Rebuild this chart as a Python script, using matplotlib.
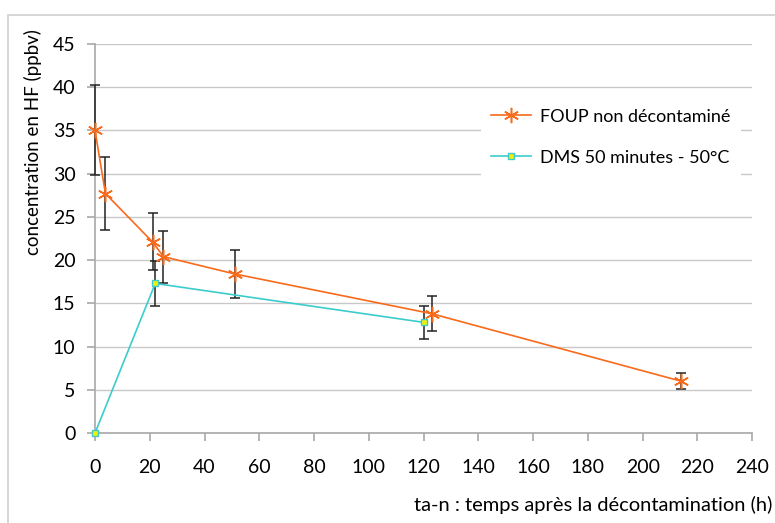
import matplotlib
matplotlib.use('Agg')
import matplotlib.pyplot as plt
from matplotlib.patches import Rectangle

plt.rcParams['font.family'] = ['Lato', 'DejaVu Sans']

# FOUP non décontaminé
foup_t = [0, 3.8, 21, 25, 51, 123, 214]
foup_c = [35.0, 27.7, 22.1, 20.4, 18.4, 13.8, 6.0]
foup_err = [5.2, 4.2, 3.3, 3.0, 2.75, 2.05, 0.95]

# DMS 50 minutes - 50°C
dms_t = [0, 22, 120]
dms_c = [0.0, 17.3, 12.8]
dms_err = [0.0, 2.65, 1.9]

orange = '#F96A1B'
teal = '#3CCCCC'
grid_col = '#C8C8C8'

fig = plt.figure(figsize=(7.75, 5.23), dpi=100)
ax = fig.add_axes([0.1226, 0.172, 0.848, 0.744])

# light frame around the chart
fig.patches.append(Rectangle((8 / 775, -0.1), 1.2, 1.1 - 15 / 523,
                             transform=fig.transFigure, fill=False,
                             edgecolor='#D0D0D0', linewidth=1.2))

ax.errorbar(foup_t, foup_c, yerr=foup_err, fmt='none', ecolor='#222222',
            elinewidth=1.1, capsize=3.5, capthick=1.1, zorder=3, clip_on=False)
ax.errorbar(dms_t[1:], dms_c[1:], yerr=dms_err[1:], fmt='none', ecolor='#222222',
            elinewidth=1.1, capsize=3.5, capthick=1.1, zorder=3, clip_on=False)

ax.plot(foup_t, foup_c, color=orange, linewidth=1.2, marker=(6, 2, 0),
        markersize=11, markeredgewidth=1.1, markeredgecolor=orange,
        label='FOUP non décontaminé', zorder=4, clip_on=False)
ax.plot(dms_t, dms_c, color=teal, linewidth=1.2, marker='s',
        markersize=4.5, markerfacecolor='#F5F000', markeredgecolor=teal,
        markeredgewidth=1, label='DMS 50 minutes - 50°C', zorder=4, clip_on=False)

ax.set_xlim(0, 240)
ax.set_ylim(0, 45)
ax.set_xticks(range(0, 241, 20))
ax.set_yticks(range(0, 46, 5))
ax.yaxis.grid(True, color=grid_col, linewidth=1)
ax.set_axisbelow(True)

for s in ['top', 'right']:
    ax.spines[s].set_visible(False)
for s in ['left', 'bottom']:
    ax.spines[s].set_color('#A8A8A8')
    ax.spines[s].set_linewidth(1.2)
ax.tick_params(axis='both', colors='#A8A8A8', length=6, width=1.2,
               labelcolor='black', labelsize=14)
ax.tick_params(axis='x', pad=13)
ax.tick_params(axis='y', pad=8)

fig.text(0.997, 0.034, 'ta-n : temps après la décontamination (h)',
         ha='right', va='center', fontsize=14.5)
fig.text(0.042, 0.728, 'concentration en HF (ppbv)', rotation=90,
         ha='center', va='center', fontsize=13.5)

leg = ax.legend(loc='upper left', bbox_to_anchor=(0.573, 0.885), fontsize=13,
                frameon=True, facecolor='white', edgecolor='none',
                fancybox=False, framealpha=1, handlelength=2.2,
                handletextpad=0.5, labelspacing=1.4, borderpad=0.6)

fig.savefig('out.png', dpi=100)
